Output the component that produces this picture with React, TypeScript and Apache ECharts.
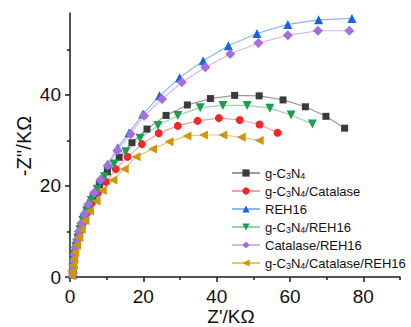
import React, { useEffect, useRef } from "react";
import * as echarts from "echarts";

const seriesNames = [
  "g-C3N4",
  "g-C3N4/Catalase",
  "REH16",
  "g-C3N4/REH16",
  "Catalase/REH16",
  "g-C3N4/Catalase/REH16",
];

const gC3N4 = [
  [0.8, 0.9], [0.9, 2.3], [1.1, 3.8], [1.4, 5.4], [1.8, 7.1], [2.3, 8.9], [3.0, 10.8],
  [3.8, 12.9], [4.9, 15.1], [6.3, 17.6], [8.0, 20.3], [10.2, 23.1], [13.4, 26.3],
  [16.9, 29.5], [21.0, 32.5], [26.2, 35.5], [32.0, 37.8], [38.3, 39.2], [44.9, 39.9],
  [51.6, 39.8], [58.1, 38.9], [64.2, 37.4], [69.8, 35.3], [74.9, 32.7],
];
const gC3N4Catalase = [
  [0.8, 0.8], [0.9, 2.1], [1.0, 3.5], [1.3, 5.0], [1.7, 6.6], [2.2, 8.3], [2.8, 10.1],
  [3.6, 12.0], [4.6, 14.0], [5.9, 16.2], [7.6, 18.5], [9.8, 20.9], [12.5, 23.7],
  [15.7, 26.4], [19.6, 29.2], [24.2, 31.6], [29.4, 33.2], [34.8, 34.3], [40.6, 34.9],
  [46.3, 34.5], [51.7, 33.5], [56.6, 31.7],
];
const reh16 = [
  [0.7, 0.6], [0.8, 1.9], [0.9, 3.3], [1.1, 4.8], [1.4, 6.4], [1.8, 8.1], [2.3, 10.0],
  [3.0, 12.0], [3.8, 14.1], [4.9, 16.3], [6.4, 18.5], [8.2, 21.5], [10.3, 24.8],
  [13.0, 28.4], [16.1, 31.7], [19.9, 35.8], [24.4, 39.8], [29.9, 43.8], [36.3, 47.5],
  [43.2, 50.8], [51.0, 53.5], [59.4, 55.5], [67.8, 56.5], [76.9, 56.8],
];
const gC3N4REH16 = [
  [0.7, 0.6], [0.8, 1.9], [1.0, 3.4], [1.2, 5.0], [1.6, 6.7], [2.1, 8.5], [2.7, 10.4],
  [3.5, 12.4], [4.5, 14.5], [5.8, 16.8], [7.4, 19.3], [9.4, 22.0], [12.0, 24.8],
  [15.2, 27.5], [19.1, 30.5], [24.0, 33.3], [29.4, 35.5], [35.5, 37.2], [41.7, 37.7],
  [48.3, 37.7], [54.5, 37.1], [60.3, 35.6], [66.1, 33.6],
];
const catalaseREH16 = [
  [0.8, 0.8], [0.9, 2.0], [1.0, 3.4], [1.2, 4.9], [1.5, 6.5], [1.9, 8.2], [2.4, 10.0],
  [3.1, 11.8], [3.9, 13.8], [5.0, 16.0], [6.6, 18.5], [8.3, 21.3], [10.3, 24.5],
  [12.9, 27.8], [16.5, 31.4], [20.2, 35.4], [25.1, 39.1], [30.5, 42.8], [36.9, 46.1],
  [43.7, 49.0], [51.4, 51.4], [59.4, 53.1], [67.6, 54.1], [76.2, 54.1],
];
const gC3N4CatalaseREH16 = [
  [0.4, 0.2], [0.5, 1.2], [0.7, 2.5], [1.0, 3.9], [1.3, 5.4], [1.8, 7.0], [2.4, 8.7],
  [3.1, 10.5], [4.1, 12.4], [5.3, 14.5], [7.1, 16.7], [8.8, 19.0], [11.7, 21.3],
  [14.8, 23.7], [18.0, 26.4], [22.5, 28.1], [27.0, 29.7], [31.9, 31.0], [36.4, 31.2],
  [41.7, 31.2], [46.7, 30.7], [51.6, 30.0],
];

const xMajorTicks = [0, 20, 40, 60, 80];
const xMinorTicks = [10, 30, 50, 70, 90];
const yMajorTicks = [0, 20, 40];
const yMinorTicks = [10, 30, 50];

const FONT = "'Liberation Sans', Arial, sans-serif";

const legendLabels: Record<string, string> = {
  "g-C3N4": "g-C{sub|3}N{sub|4}",
  "g-C3N4/Catalase": "g-C{sub|3}N{sub|4}/Catalase",
  REH16: "REH16",
  "g-C3N4/REH16": "g-C{sub|3}N{sub|4}/REH16",
  "Catalase/REH16": "Catalase/REH16",
  "g-C3N4/Catalase/REH16": "g-C{sub|3}N{sub|4}/Catalase/REH16",
};

export default function App() {
  const ref = useRef<HTMLDivElement>(null);
  useEffect(() => {
    if (!ref.current) return;
    const chart = echarts.init(ref.current, undefined, { renderer: "svg" });
    const datasets = [gC3N4, gC3N4Catalase, reh16, gC3N4REH16, catalaseREH16, gC3N4CatalaseREH16];
    const markerColors = ["#3a3a3a", "#f02828", "#1565e0", "#1a9e50", "#a46ee0", "#cf960c"];
    const lineColors = ["#9a9a9a", "#f5a0a0", "#8ab6f2", "#96d4ae", "#d4b6f2", "#e8c470"];
    const symbols = ["rect", "circle", "triangle", "triangle", "diamond", "triangle"];
    const rotations = [0, 0, 0, 180, 0, 90];
    const sizes = [7, 8, 9, 9, 10, 9];

    const axisLineStyle = { color: "#1a1a1a", width: 1.5 };
    chart.setOption({
      animation: false,
      grid: { left: 70, right: 11, top: 13, bottom: 50 },
      xAxis: [
        {
          type: "value",
          min: 0,
          max: 90,
          interval: 10,
          axisLine: { show: true, lineStyle: axisLineStyle },
          axisTick: { show: true, customValues: xMajorTicks, length: 5, lineStyle: axisLineStyle },
          axisLabel: {
            customValues: xMajorTicks,
            fontSize: 19,
            color: "#111",
            fontFamily: FONT,
            margin: 10,
          },
          splitLine: { show: false },
        },
        {
          type: "value",
          min: 0,
          max: 90,
          position: "bottom",
          offset: 0,
          axisLine: { show: false },
          axisTick: { show: true, customValues: xMinorTicks, length: 3, lineStyle: axisLineStyle },
          axisLabel: { show: false },
          splitLine: { show: false },
        },
      ],
      yAxis: [
        {
          type: "value",
          min: 0,
          max: 58,
          interval: 10,
          axisLine: { show: true, lineStyle: axisLineStyle },
          axisTick: { show: true, customValues: yMajorTicks, length: 5, lineStyle: axisLineStyle },
          axisLabel: {
            customValues: yMajorTicks,
            fontSize: 19,
            color: "#111",
            fontFamily: FONT,
            margin: 9,
          },
          splitLine: { show: false },
        },
        {
          type: "value",
          min: 0,
          max: 58,
          position: "left",
          offset: 0,
          axisLine: { show: false },
          axisTick: { show: true, customValues: yMinorTicks, length: 3, lineStyle: axisLineStyle },
          axisLabel: { show: false },
          splitLine: { show: false },
        },
      ],
      legend: {
        orient: "vertical",
        left: 226,
        top: 161,
        itemWidth: 28,
        itemHeight: 9,
        itemGap: 4,
        data: seriesNames,
        formatter: (name: string) => legendLabels[name] ?? name,
        textStyle: {
          fontSize: 13,
          color: "#111",
          fontFamily: FONT,
          lineHeight: 14,
          rich: {
            sub: { fontSize: 9, fontFamily: FONT, color: "#111", verticalAlign: "bottom", lineHeight: 14 },
          },
        },
      },
      graphic: [
        {
          type: "text",
          x: 24,
          y: 146,
          rotation: Math.PI / 2,
          style: {
            text: "-Z''/KΩ",
            font: `20px ${FONT}`,
            fill: "#111",
            align: "center",
            verticalAlign: "middle",
          },
        },
        {
          type: "text",
          x: 231,
          y: 316,
          style: {
            text: "Z'/KΩ",
            font: `19px ${FONT}`,
            fill: "#111",
            align: "center",
            verticalAlign: "middle",
          },
        },
      ],
      series: seriesNames.map((name, i) => ({
        name,
        type: "line",
        xAxisIndex: 0,
        yAxisIndex: 0,
        data: datasets[i],
        symbol: symbols[i],
        symbolSize: sizes[i],
        symbolRotate: rotations[i],
        showAllSymbol: true,
        smooth: false,
        lineStyle: { color: lineColors[i], width: 1.2 },
        itemStyle: { color: markerColors[i] },
        emphasis: { disabled: true },
      })),
    });
    return () => chart.dispose();
  }, []);
  return (
    <div
      ref={ref}
      style={{ position: "fixed", left: 0, top: 0, width: 411, height: 327, background: "#fff" }}
    />
  );
}
